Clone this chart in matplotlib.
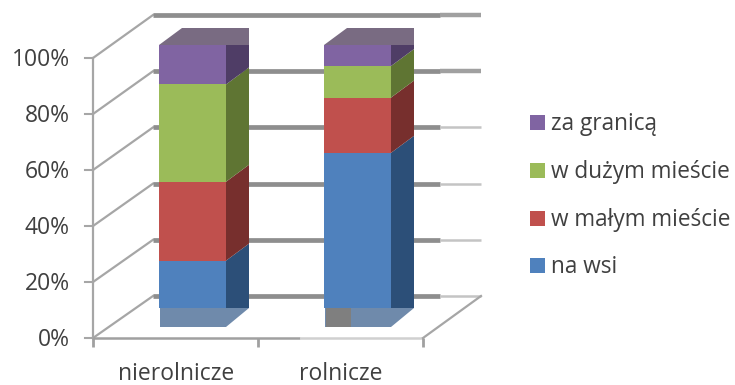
import matplotlib
matplotlib.use("Agg")
import matplotlib.pyplot as plt
from matplotlib.patches import Polygon, Rectangle

categories = ["nierolnicze", "rolnicze"]
series_names = ["na wsi", "w małym mieście", "w dużym mieście", "za granicą"]
na_wsi = [18, 59]
w_malym = [30, 21]
w_duzym = [37, 12]
za_granica = [15, 8]
tick_labels = ["0%", "20%", "40%", "60%", "80%", "100%"]
tick_values = [0, 20, 40, 60, 80, 100]

front_colors = ["#4f81bd", "#c0504d", "#9bbb59", "#8064a2"]
side_colors = ["#2c4f78", "#772f2d", "#5f7533", "#4f3d66"]
legend_y = [265, 218, 170, 122]

plt.rcParams["font.family"] = ["Open Sans", "DejaVu Sans"]

fig = plt.figure(figsize=(7.35, 3.85), dpi=100)
ax = fig.add_axes([0, 0, 1, 1])
ax.set_xlim(0, 735)
ax.set_ylim(385, 0)
ax.axis("off")

grid = "#8e8e8e"
light = "#c4c4c4"
text_col = "#404040"


# y position on the front plane and on the back wall
def front_y(v):
    return 338 - v * 2.80


def back_y(v):
    return 296 - v * 2.81


def bar_y(v):
    return 308 - v * 2.63


# walls and gridlines
for v, lab in zip(tick_values, tick_labels):
    ax.plot([85, 93], [front_y(v), front_y(v)], color="#a6a6a6", lw=1.5)
    ax.plot([93, 153], [front_y(v), back_y(v)], color="#a6a6a6", lw=1.6)
    ax.plot([153, 440], [back_y(v), back_y(v)], color=grid, lw=3.4, solid_capstyle="butt")
    if v < 80:
        ax.plot([440, 481], [back_y(v), back_y(v)], color=light, lw=1.8, solid_capstyle="butt")
    else:
        ax.plot([440, 481], [back_y(v), back_y(v)], color="#a0a0a0", lw=3.2, solid_capstyle="butt")
    ax.text(70, front_y(v) + 2, lab, ha="right", va="center", fontsize=16.5, color=text_col)

ax.plot([93, 93], [front_y(0), front_y(100)], color="#a6a6a6", lw=1.6)

# floor
ax.plot([93, 300], [338, 338], color="#a0a0a0", lw=1.8, solid_capstyle="butt")
ax.plot([300, 423], [338, 338], color="#d0d0d0", lw=1.8, solid_capstyle="butt")
ax.plot([423, 481], [338, 296], color="#a6a6a6", lw=1.6)
for x in [93, 258, 423]:
    ax.plot([x, x], [338, 347], color="#a0a0a0", lw=2.0, solid_capstyle="butt")

# stacked boxes
bar_left = [159, 324]
bar_w = 67
dx = 23
dy = 17
stack = [na_wsi, w_malym, w_duzym, za_granica]
for i, cat in enumerate(categories):
    x0 = bar_left[i]
    x1 = x0 + bar_w
    x2 = x1 + dx
    base = 0
    # underside of the box
    under = Polygon([(x0 + 1, 308), (x2, 308), (x1, 327), (x0 + 1, 327)], closed=True,
                    facecolor="#6f8aab", edgecolor="none", zorder=3)
    ax.add_patch(under)
    if i == 1:
        ax.add_patch(Rectangle((x0 + 2, 308), 25, 19, facecolor="#7f7f7f", edgecolor="none", zorder=3))
    for vals, fc, sc in zip(stack, front_colors, side_colors):
        top = base + vals[i]
        yb = bar_y(base)
        yt = bar_y(top)
        ax.add_patch(Rectangle((x0, yt), bar_w, yb - yt, facecolor=fc, edgecolor="none", zorder=5))
        # side face, flat at the very bottom and very top of the stack
        back_b = yb if base == 0 else yb - dy
        back_t = yt if top >= 100 else yt - dy
        ax.add_patch(Polygon([(x1, yb), (x2, back_b), (x2, back_t), (x1, yt)], closed=True,
                             facecolor=sc, edgecolor="none", zorder=4))
        base = top
    # lid
    yt = bar_y(100)
    ax.add_patch(Polygon([(x0, yt), (x0 + dx, yt - dy), (x2, yt - dy), (x2, yt)], closed=True,
                         facecolor="#796b82", edgecolor="none", zorder=4.5))
    ax.text(x0 + 17, 380, cat, ha="center", va="baseline", fontsize=16.5, color=text_col)

# legend
for name, c, y in zip(series_names, front_colors, legend_y):
    ax.add_patch(Rectangle((530, y - 7), 15, 15, facecolor=c, edgecolor="none"))
    ax.text(551, y + 2, name, ha="left", va="center", fontsize=16.3, color=text_col)

fig.savefig("out.png", dpi=100)
